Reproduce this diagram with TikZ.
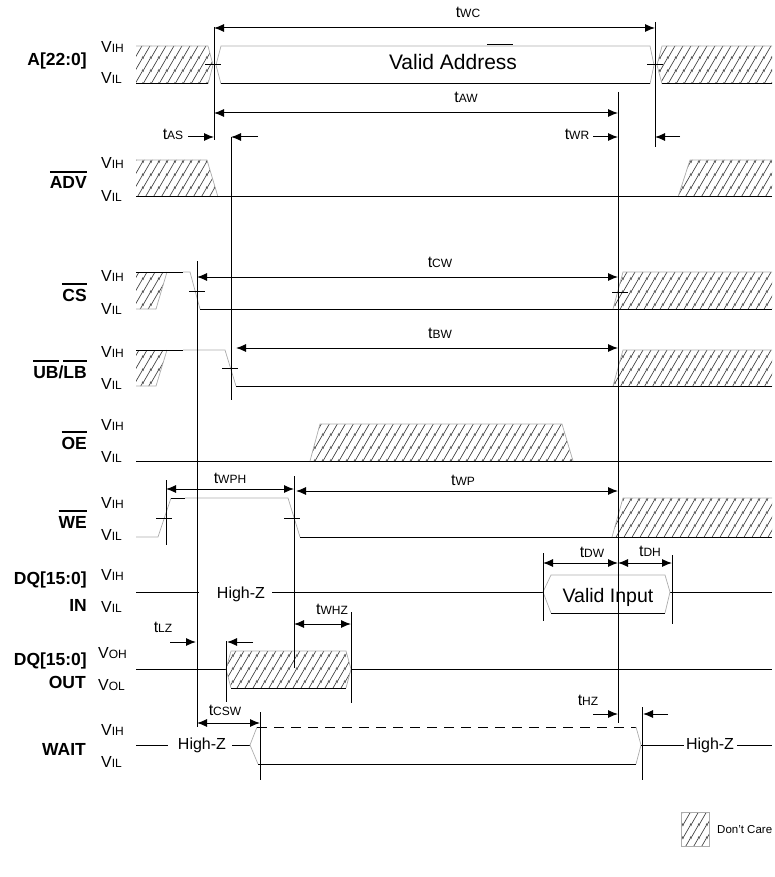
\documentclass[tikz,border=0pt]{standalone}
\usepackage{fontspec}
\setmainfont{Liberation Sans}
\usetikzlibrary{arrows.meta,patterns.meta}

\tikzdeclarepattern{
  name=dontcare,
  type=uncolored,
  bottom left={(0pt,0pt)},
  top right={(7.5pt,13pt)},
  tile size={(7.5pt,13pt)},
  code={
    \draw[line width=0.7pt] (-0.75pt,-1.3pt) -- (8.25pt,14.3pt);
    \draw[line width=0.7pt] (-8.25pt,-1.3pt) -- (0.75pt,14.3pt);
    \draw[line width=0.7pt] (6.75pt,-1.3pt) -- (15.75pt,14.3pt);
  }
}

\newcommand\tmg[1]{t{\fontsize{12}{12}\selectfont#1}}
\newcommand\vlv[2]{#1{\fontsize{12}{12}\selectfont#2}}
\newcommand\ovl[1]{\setbox0=\hbox{#1}\rlap{\rule[\dimexpr\ht0+4pt\relax]{\wd0}{1.6pt}}\box0}

\tikzset{
  >={Latex[length=10pt,width=8pt]},
  sig/.style={line width=1pt},
  dim/.style={line width=1pt},
  edg/.style={gray!65,line width=0.7pt},
  dc/.style={pattern=dontcare,pattern color=black!75},
  tl/.style={anchor=base,font=\fontsize{16}{16}\selectfont,inner sep=0pt},
  lv/.style={anchor=base west,font=\fontsize{16}{16}\selectfont,inner sep=0pt},
  nm/.style={anchor=base east,font=\bfseries\fontsize{17.5}{18}\selectfont,inner sep=0pt},
}

\begin{document}
\begin{tikzpicture}[x=1pt,y=-1pt]
\useasboundingbox (0,0) rectangle (774,877);

\node[nm] (nA) at (87,66) {A[22:0]};
\node[nm] (nADV) at (87,189) {\ovl{ADV}};
\node[nm] (nCS) at (87,301) {\ovl{CS}};
\node[nm] (nUB) at (87,378) {\ovl{UB}/\ovl{LB}};
\node[nm] (nOE) at (87,449) {\ovl{OE}};
\node[nm] (nWE) at (87,528) {\ovl{WE}};
\node[nm] (nDQi) at (87,584) {DQ[15:0]};
\node[nm] (nIN) at (87,611) {IN};
\node[nm] (nDQo) at (87,665) {DQ[15:0]};
\node[nm] (nOUT) at (86,688) {OUT};
\node[nm] (nWAIT) at (86,755) {WAIT};

\foreach \y/\v/\t/\n in {53/V/IH/aH, 84/V/IL/aL, 169/V/IH/advH, 202/V/IL/advL,
    281/V/IH/csH, 314/V/IL/csL, 357/V/IH/ubH, 389/V/IL/ubL, 430/V/IH/oeH, 462/V/IL/oeL,
    508/V/IH/weH, 540/V/IL/weL, 580/V/IH/inH, 612/V/IL/inL, 735/V/IH/wtH, 767/V/IL/wtL}
  \node[lv] (v\n) at (101,\y) {\vlv{\v}{\t}};
\node[lv] (voutH) at (98,658) {\vlv{V}{OH}};
\node[lv] (voutL) at (98,690) {\vlv{V}{OL}};

\fill[dc] (136,46) -- (208,46) -- (213,65) -- (208,84) -- (136,84) -- cycle;
\draw[edg] (136,46) -- (208,46) -- (213,65) -- (208,84);
\draw[sig] (136,84) -- (208,84);
\draw[edg] (650,84) -- (654,65) -- (650,46) -- (221,46) -- (216,65) -- (221,84);
\draw[sig] (221,84) -- (650,84);
\draw[sig] (487,45) -- (513,45);
\fill[dc] (662,46) -- (772,46) -- (772,84) -- (662,84) -- (657,65) -- cycle;
\draw[edg] (772,46) -- (662,46) -- (657,65) -- (662,84);
\draw[sig] (662,84) -- (772,84);
\node (va) at (453,70) [anchor=base,font=\fontsize{21}{21}\selectfont,inner sep=0pt] {Valid Address};

\fill[dc] (136,160) -- (207,160) -- (218,197) -- (136,197) -- cycle;
\draw[edg] (136,160) -- (207,160) -- (218,197);
\fill[dc] (690,160) -- (772,160) -- (772,197) -- (678,197) -- cycle;
\draw[edg] (772,160) -- (690,160) -- (678,197);
\draw[sig] (136,197) -- (772,197);

\fill[dc] (136,272) -- (167,272) -- (156,309) -- (136,309) -- cycle;
\draw[edg] (167,272) -- (156,309) -- (136,309);
\draw[sig] (136,272) -- (183,272);
\draw[edg] (183,272) -- (190,272) -- (200,309);
\draw[sig] (200,309) -- (772,309);
\fill[dc] (623,272) -- (772,272) -- (772,309) -- (613,309) -- cycle;
\draw[edg] (772,272) -- (623,272) -- (613,309);

\fill[dc] (136,350) -- (167,350) -- (156,386) -- (136,386) -- cycle;
\draw[edg] (167,350) -- (156,386) -- (136,386);
\draw[sig] (136,350) -- (183,350);
\draw[edg] (183,350) -- (225,350) -- (236,386);
\draw[sig] (236,386) -- (772,386);
\fill[dc] (623,350) -- (772,350) -- (772,386) -- (613,386) -- cycle;
\draw[edg] (772,350) -- (623,350) -- (613,386);

\draw[sig] (136,461) -- (772,461);
\fill[dc] (320,424) -- (562,424) -- (573,461) -- (310,461) -- cycle;
\draw[edg] (310,461) -- (320,424) -- (562,424) -- (573,461);

\draw[edg] (136,537) -- (158,537) -- (171,498);
\draw[sig] (171,498) -- (185,498);
\draw[edg] (185,498) -- (288,498) -- (300,537);
\draw[sig] (300,537) -- (772,537);
\fill[dc] (623,498) -- (772,498) -- (772,537) -- (612,537) -- cycle;
\draw[edg] (772,498) -- (623,498) -- (612,537);

\draw[sig] (136,592) -- (199,592) (272,592) -- (543,592) (670,592) -- (772,592);
\node[tl] (hz1) at (241,598) {High-Z};
\draw[edg] (551,613) -- (543,592) -- (551,575) -- (665,575) -- (670,592) -- (665,613);
\draw[sig] (551,613) -- (665,613);
\node (vi) at (608,602) [anchor=base,font=\fontsize{19.5}{20}\selectfont,inner sep=0pt] {Valid Input};

\draw[sig] (136,669) -- (226,669) (351,669) -- (772,669);
\fill[dc] (226,669) -- (231,651) -- (346,651) -- (351,669) -- (346,688) -- (231,688) -- cycle;
\draw[edg] (231,688) -- (226,669) -- (231,651) -- (346,651) -- (351,669) -- (346,688);
\draw[sig] (231,688) -- (346,688);

\draw[sig] (136,745) -- (168,745) (232,745) -- (250,745);
\node[tl] (hz2) at (202,749) {High-Z};
\draw[edg] (257,727) -- (250,745) -- (258,764);
\draw[sig,dash pattern=on 10pt off 7pt] (257,727) -- (636,727);
\draw[sig] (258,764) -- (636,764);
\draw[edg] (636,727) -- (641,745) -- (636,764);
\draw[sig] (641,745) -- (684,745) (737,745) -- (772,745);
\node[tl] (hz3) at (710,749) {High-Z};

\foreach \x/\a/\b in {214/27/140, 655/22/147, 231/137/400, 618/92/723, 197/261/727,
    166/480/545, 294/476/668, 543/553/621, 672/555/624, 226/641/702, 351/612/703,
    260/712/780, 642/707/780}
  \draw[sig] (\x,\a) -- (\x,\b);
\foreach \x/\y in {213/64, 655/64, 197/291, 620/292, 230/368, 164/518, 292/518}
  \draw[line width=0.8pt] (\x-8,\y) -- (\x+8,\y);

\draw[dim,<->] (214,28) -- (655,28);
\node[tl] (twc) at (468,18) {\tmg{WC}};
\draw[dim,<->] (214,113) -- (618,113);
\node[tl] (taw) at (466,103) {\tmg{AW}};
\draw[dim,->] (188,137) -- (214,137);
\draw[dim,->] (258,137) -- (231,137);
\node[tl] (tas) at (173,140) {\tmg{AS}};
\draw[dim,->] (593,137) -- (618,137);
\draw[dim,->] (680,137) -- (655,137);
\node[tl] (twr) at (577,140) {\tmg{WR}};
\draw[dim,<->] (197,277) -- (618,277);
\node[tl] (tcw) at (440,267) {\tmg{CW}};
\draw[dim,<->] (236,348) -- (618,348);
\node[tl] (tbw) at (440,338) {\tmg{BW}};
\draw[dim,<->] (166,489) -- (294,489);
\node[tl] (twph) at (230,483) {\tmg{WPH}};
\draw[dim,<->] (296,491) -- (618,491);
\node[tl] (twp) at (463,485) {\tmg{WP}};
\draw[dim,<->] (543,563) -- (618,563);
\node[tl] (tdw) at (592,557) {\tmg{DW}};
\draw[dim,<->] (618,563) -- (672,563);
\node[tl] (tdh) at (650,556) {\tmg{DH}};
\draw[dim,<->] (294,624) -- (351,624);
\node[tl] (twhz) at (332,614) {\tmg{WHZ}};
\draw[dim,->] (170,642) -- (196,642);
\draw[dim,->] (253,642) -- (227,642);
\node[tl] (tlz) at (163,632) {\tmg{LZ}};
\draw[dim,<->] (197,723) -- (260,723);
\node[tl] (tcsw) at (225,715) {\tmg{CSW}};
\draw[dim,->] (593,714) -- (618,714);
\draw[dim,->] (668,714) -- (643,714);
\node[tl] (thz) at (588,705) {\tmg{HZ}};

\fill[dc] (681,812) rectangle (709,846);
\draw[edg] (681,812) rectangle (709,846);
\node (dcl) at (717,833) [anchor=base west,font=\fontsize{11.5}{12}\selectfont,inner sep=0pt] {Don’t Care};
\end{tikzpicture}
\end{document}
